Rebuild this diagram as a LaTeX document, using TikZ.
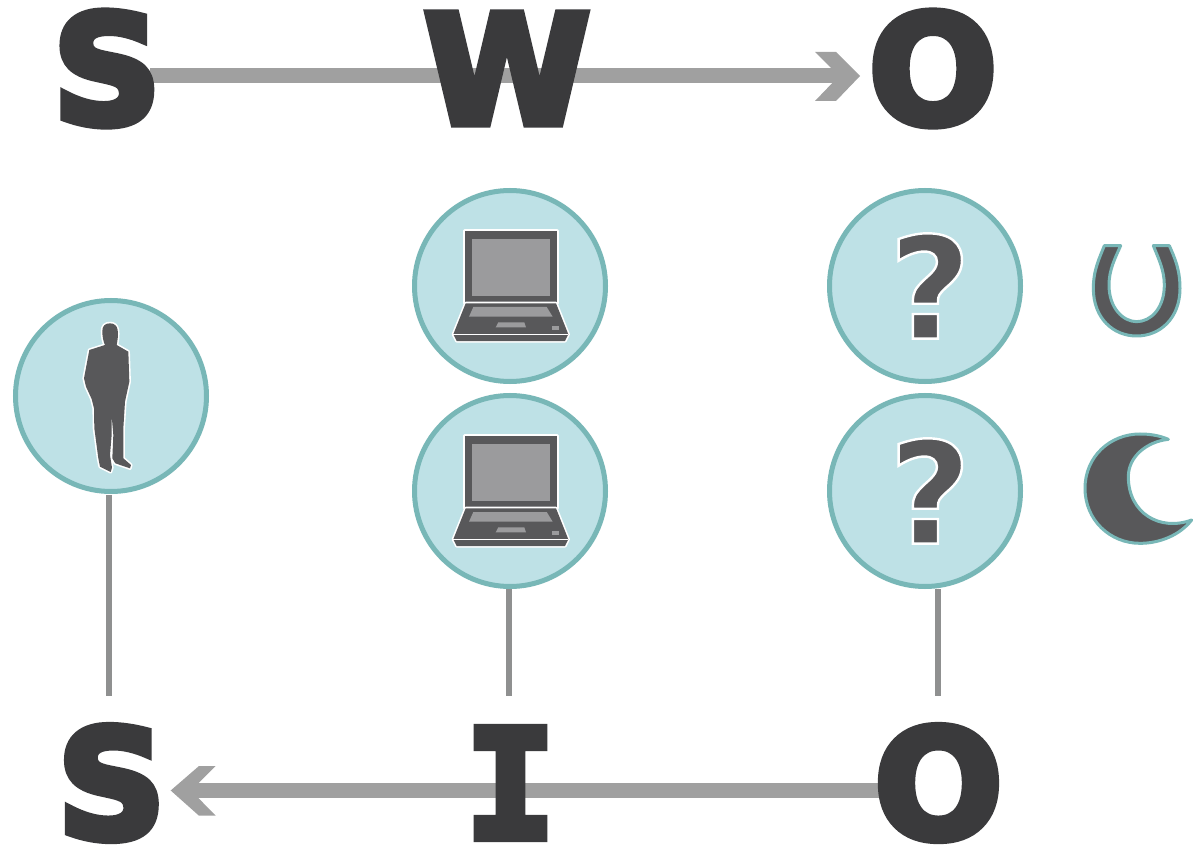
\documentclass[tikz,border=0pt]{standalone}
\usepackage{fontspec}
\setmainfont{DejaVu Sans}
\newfontfamily\bigbold{DejaVu Sans Bold}
\newfontfamily\bigmono{DejaVu Sans Mono Bold}
\definecolor{letter}{HTML}{3A3A3C}
\definecolor{icon}{HTML}{58585A}
\definecolor{screen}{HTML}{9B9B9D}
\definecolor{circfill}{HTML}{BEE1E6}
\definecolor{circline}{HTML}{78B7B7}
\definecolor{arrowc}{HTML}{A0A0A0}
\definecolor{linec}{HTML}{8F9090}
\newcommand{\heavy}[1]{\special{pdf:code 2 Tr 8 w 3 M 0.227 0.227 0.235 RG}#1\special{pdf:code 0 Tr 1 w 10 M}}
\newcommand{\outlined}[1]{\special{pdf:code 2 Tr 2.4 w 1 1 1 RG}#1\special{pdf:code 0 Tr 1 w}}
\tikzset{
  letternode/.style={inner sep=0pt,anchor=base,text=letter,font=\bigbold\fontsize{151}{151}\selectfont},
  ball/.style={circle,draw=circline,fill=circfill,line width=5pt,minimum size=191pt,inner sep=0pt},
  stem/.style={draw=linec,line width=5.5pt},
  bigarrow/.style={draw=arrowc,line width=15pt},
  chevron/.style={fill=arrowc,draw=none},
  iconshape/.style={fill=icon,preaction={draw=white,line width=3.2pt,line join=round}},
  tealshape/.style={fill=icon,draw=circline,line width=3pt,line join=round},
  qmark/.style={inner sep=0pt,text=icon,font=\bigbold\fontsize{142}{142}\selectfont},
  pics/laptop/.style={code={
    \path[iconshape] (-45,-55) rectangle (47,17);
    \fill[screen] (-37.7,-46.7) rectangle (40,9.7);
    \path[iconshape] (-44.3,17.3) -- (46,17.3) -- (58.3,48.3) -- (55,55) -- (-53.3,55) -- (-56.7,48.3) -- cycle;
    \draw[white,line width=1.2pt] (-56.7,48.3) -- (58.3,48.3);
    \fill[screen] (-36.7,21) -- (36.7,21) -- (42.7,30.7) -- (-41,30.7) -- cycle;
    \fill[screen] (-11.7,36.3) -- (14.3,36.3) -- (16,41.3) -- (-14.3,41.3) -- cycle;
    \fill[screen] (42,40) rectangle (48.7,44.3);
  }}
}
\begin{document}
\begin{tikzpicture}[x=1pt,y=-1pt]
\useasboundingbox[fill=white] (0,0) rectangle (1195,845);
% top row
\coordinate (arrowtopstart) at (150,76);
\coordinate (arrowtopend) at (840,76);
\draw[bigarrow] (arrowtopstart) -- (arrowtopend);
\fill[chevron] (815,52) -- (836,52) -- (860,76) -- (836,101) -- (815,101) -- (839,76) -- cycle;
\node[letternode] (s1) at (107,123.5) {\heavy{S}};
\node[letternode] (w1) at (507,123.5) {\heavy{W}};
\node[letternode] (o1) at (933,123.5) {\heavy{O}};
% bottom row
\coordinate (arrowbotstart) at (885,790.5);
\coordinate (arrowbotend) at (190,790.5);
\draw[bigarrow] (arrowbotstart) -- (arrowbotend);
\fill[chevron] (215.7,766) -- (199,766) -- (170.7,790.5) -- (199,815.7) -- (215.7,815.7) -- (191,790.5) -- cycle;
\node[letternode] (s2) at (111.5,838) {\heavy{S}};
\node[letternode,font=\bigmono\fontsize{151}{151}\selectfont] (i2) at (510.5,838) {\heavy{I}};
\node[letternode] (o2) at (938.5,838) {\heavy{O}};
% circles
\node[ball] (person) at (111,396) {};
\node[ball] (lap1) at (510,286) {};
\node[ball] (lap2) at (510,491) {};
\node[ball] (q1) at (925,286) {};
\node[ball] (q2) at (925,491) {};
% stems
\coordinate (st1) at (109,696);
\coordinate (st2) at (509,696);
\coordinate (st3) at (938,696);
\draw[stem] (109,495) -- (st1);
\draw[stem] (509,589) -- (st2);
\draw[stem] (938,589) -- (st3);
% icons
\pic at (lap1) {laptop};
\pic at (lap2) {laptop};
\node[qmark] (qm1) at (930,286) {\outlined{?}};
\node[qmark] (qm2) at (930,491) {\outlined{?}};
% person
\begin{scope}[shift={(10,295)},scale=1/3]
\path[iconshape] (300,85) .. controls (285,85) and (277,93) .. (277,108)
  .. controls (277,125) and (280,140) .. (285,150) -- (238,165) -- (222,250) -- (228,275)
  -- (245,312) -- (252,340) -- (253,400) -- (265,490) -- (270,515) -- (302,531) -- (306,518)
  -- (300,480) -- (305,420) -- (305,362) -- (310,420) -- (307,490) -- (316,505) -- (360,520)
  -- (363,510) -- (340,490) -- (340,400) -- (345,320) -- (358,260) -- (355,170) -- (320,150)
  .. controls (323,135) and (325,120) .. (323,105)
  .. controls (321,92) and (313,85) .. (300,85) -- cycle;
\end{scope}
\begin{scope}[shift={(1060,220)},scale=1/3]
% horseshoe
\path[tealshape] (133,77) -- (182,77)
  .. controls (165,115) and (147,150) .. (147,195)
  .. controls (147,265) and (190,305) .. (230,305)
  .. controls (272,305) and (313,265) .. (313,195)
  .. controls (313,150) and (295,115) .. (280,77)
  -- (328,77)
  .. controls (345,115) and (360,150) .. (360,205)
  .. controls (360,295) and (300,348) .. (230,348)
  .. controls (160,348) and (100,295) .. (100,205)
  .. controls (100,150) and (118,115) .. (133,77) -- cycle;
% crescent
\path[tealshape] (325,658)
  .. controls (295,645) and (265,642) .. (240,642)
  .. controls (150,642) and (75,710) .. (75,805)
  .. controls (75,900) and (150,970) .. (240,970)
  .. controls (300,970) and (360,945) .. (395,900)
  .. controls (300,935) and (205,880) .. (205,770)
  .. controls (205,710) and (260,665) .. (325,658) -- cycle;
\end{scope}
\end{tikzpicture}
\end{document}
